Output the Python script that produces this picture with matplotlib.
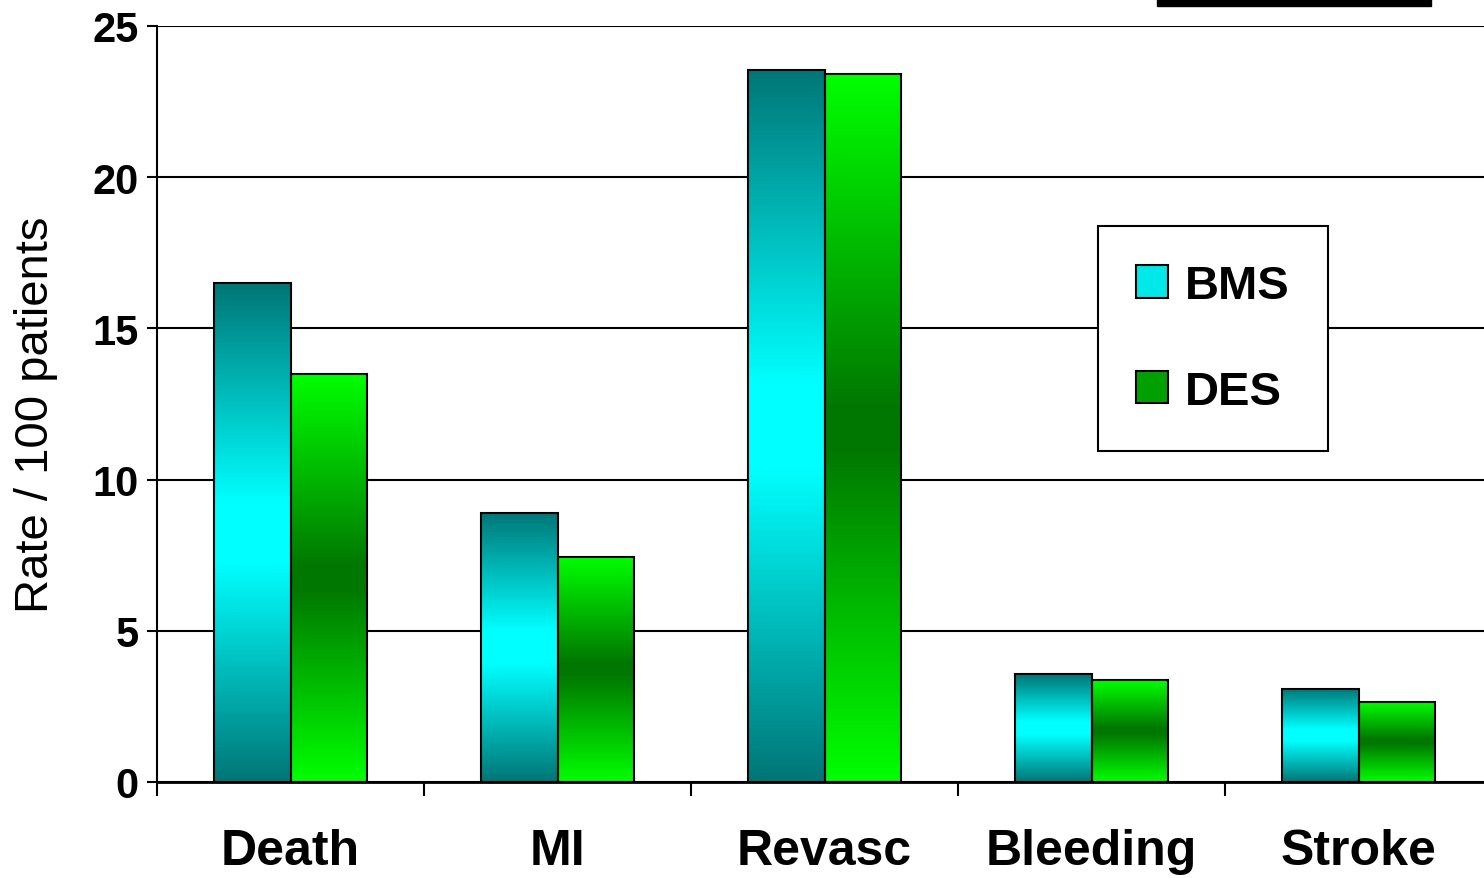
import matplotlib.pyplot as plt
import numpy as np
from matplotlib.colors import LinearSegmentedColormap
from matplotlib.patches import Rectangle, Patch

categories = ['Death', 'MI', 'Revasc', 'Bleeding', 'Stroke']
bms = [16.5, 8.9, 23.55, 3.57, 3.08]
des = [13.5, 7.45, 23.41, 3.37, 2.65]
series_labels = ['BMS', 'DES']
yticks = [0, 5, 10, 15, 20, 25]

bms_cmap = LinearSegmentedColormap.from_list(
    'bms', [(0, '#007676'), (0.44, '#00ffff'), (0.56, '#00ffff'), (1, '#007676')])
des_cmap = LinearSegmentedColormap.from_list(
    'des', [(0, '#00ff00'), (0.47, '#007800'), (0.53, '#007800'), (1, '#00ff00')])

W, H = 1484, 879
fig = plt.figure(figsize=(W / 100, H / 100), dpi=100)
ax = fig.add_axes([157 / W, 1 - 783 / H, (1492 - 157) / W, (783 - 27) / H])

x = np.arange(len(categories))
width = 0.287
grad = np.linspace(0, 1, 256).reshape(-1, 1)


def gradient_bars(xpos, values, cmap):
    bars = ax.bar(xpos, values, width, facecolor='none', edgecolor='black',
                  linewidth=1.5, zorder=3)
    for b in bars:
        ax.imshow(grad, extent=[b.get_x(), b.get_x() + b.get_width(), 0, b.get_height()],
                  aspect='auto', cmap=cmap, origin='lower', zorder=2,
                  interpolation='bilinear')
    return bars


gradient_bars(x - width / 2, bms, bms_cmap)
gradient_bars(x + width / 2, des, des_cmap)

ax.set_xlim(-0.5, len(categories) - 0.5)
ax.set_ylim(0, 25)

ax.set_axisbelow(True)
ax.yaxis.grid(True, color='black', linewidth=1.5)
for s in ['top', 'right']:
    ax.spines[s].set_visible(False)
ax.spines['left'].set_linewidth(1.5)
ax.spines['bottom'].set_linewidth(2)

ax.set_yticks(yticks)
ax.set_yticklabels([str(v) for v in yticks], fontfamily='Liberation Sans',
                   fontweight='bold', fontsize=30)
ax.tick_params(axis='y', length=7, width=1.5, pad=6)

ax.set_xticks(x)
ax.set_xticklabels(categories, fontfamily='Liberation Sans',
                   fontweight='bold', fontsize=36)
ax.set_xticks(np.arange(len(categories) + 1) - 0.5, minor=True)
ax.tick_params(axis='x', which='major', length=0, pad=33)
ax.tick_params(axis='x', which='minor', length=10, width=1.5)

ax.set_ylabel('Rate / 100 patients', fontfamily='Liberation Sans', fontsize=34)
ax.yaxis.set_label_coords(-0.074, 0.487)

handles = [Patch(facecolor='#00e8e8', edgecolor='black', linewidth=1.5),
           Patch(facecolor='#00a000', edgecolor='black', linewidth=1.5)]
leg = ax.legend(handles, series_labels, loc='upper left',
                bbox_to_anchor=(0.705, 0.735), frameon=True, fancybox=False,
                edgecolor='black', framealpha=1, borderpad=0.8,
                labelspacing=1.3, handlelength=0.68, handleheight=0.68,
                handletextpad=0.36, borderaxespad=0,
                prop={'family': 'Liberation Sans', 'weight': 'bold', 'size': 34})
leg.get_frame().set_linewidth(1.5)

fig.patches.append(Rectangle((1157 / W, 1 - 7 / H), (1431 - 1157) / W, 8 / H,
                             transform=fig.transFigure, color='black'))

fig.savefig('out.png', dpi=100)
